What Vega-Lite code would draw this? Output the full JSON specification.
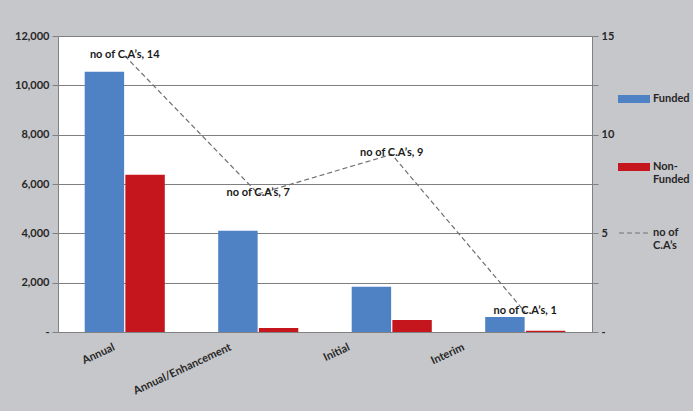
{
  "$schema": "https://vega.github.io/schema/vega-lite/v6.json",
  "autosize": {"type": "none"},
  "padding": {"left": 58, "top": 36, "right": 101, "bottom": 79},
  "width": 534,
  "height": 296,
  "background": "#c6c7ca",
  "config": {
    "view": {"fill": "white", "stroke": null},
    "font": "Lato",
    "axis": {"labelFont": "Lato", "labelFontWeight": "bold", "labelColor": "#262626", "labelFontSize": 11, "domainColor": "#808080", "tickColor": "#808080"},
    "legend": {"labelFont": "Lato", "labelFontWeight": "bold", "labelColor": "#262626", "labelFontSize": 11}
  },
  "datasets": {
    "bars": [
      {"type": "Annual", "series": "Funded", "value": 10550},
      {"type": "Annual", "series": "Non-Funded", "value": 6370},
      {"type": "Annual/Enhancement", "series": "Funded", "value": 4100},
      {"type": "Annual/Enhancement", "series": "Non-Funded", "value": 160},
      {"type": "Initial", "series": "Funded", "value": 1830},
      {"type": "Initial", "series": "Non-Funded", "value": 490},
      {"type": "Interim", "series": "Funded", "value": 610},
      {"type": "Interim", "series": "Non-Funded", "value": 50}
    ],
    "cas": [
      {"type": "Annual", "count": 14, "series": "no of C.A’s"},
      {"type": "Annual/Enhancement", "count": 7, "series": "no of C.A’s"},
      {"type": "Initial", "count": 9, "series": "no of C.A’s"},
      {"type": "Interim", "count": 1, "series": "no of C.A’s"}
    ]
  },
  "layer": [
    {
      "data": {"name": "bars"},
      "mark": {"type": "bar"},
      "encoding": {
        "x": {"field": "type", "type": "nominal", "sort": null,
              "scale": {"paddingInner": 0.4, "paddingOuter": 0.2},
              "axis": {"title": null, "labelAngle": -25, "ticks": false, "labelPadding": 9, "domainColor": "#808080",
                       "labelOffset": {"condition": [
                         {"test": "datum.value == 'Annual'", "value": -13},
                         {"test": "datum.value == 'Annual/Enhancement'", "value": -30},
                         {"test": "datum.value == 'Initial'", "value": -45}
                       ], "value": -64}}},
        "xOffset": {"field": "series", "type": "nominal", "scale": {"paddingInner": 0.03}},
        "y": {"field": "value", "type": "quantitative",
              "scale": {"domain": [0, 12000]},
              "axis": {"title": null, "values": [0, 2000, 4000, 6000, 8000, 10000, 12000],
                       "labelExpr": "datum.value == 0 ? '-' : format(datum.value, ',')",
                       "grid": true, "gridColor": "#7f7f7f", "gridWidth": 1, "tickSize": 6, "labelPadding": 3}},
        "color": {"field": "series", "type": "nominal",
                  "scale": {"domain": ["Funded", "Non-Funded"], "range": ["#4f81c5", "#c5161d"]},
                  "legend": {"title": null, "orient": "none", "legendX": 560, "legendY": 47,
                             "symbolType": "M-1,-0.25H1V0.25H-1Z", "symbolSize": 1024, "symbolStrokeWidth": 0,
                             "rowPadding": 47, "labelOffset": 3,
                             "labelExpr": "datum.label == 'Non-Funded' ? ['Non-', 'Funded'] : datum.label"}}
      }
    },
    {
      "data": {"name": "cas"},
      "layer": [
        {
          "mark": {"type": "line", "color": "#707070", "strokeWidth": 1.2},
          "encoding": {
            "x": {"field": "type", "type": "nominal", "sort": null},
            "y": {"field": "count", "type": "quantitative", "scale": {"domain": [0, 15]},
                  "axis": {"title": null, "orient": "right", "values": [0, 2.5, 5, 7.5, 10, 12.5, 15],
                           "labelExpr": "datum.value == 0 ? '-' : (datum.value % 5 == 0 ? format(datum.value, 'd') : '')",
                           "grid": false, "tickSize": 6, "labelPadding": 3}},
            "strokeDash": {"field": "series", "type": "nominal",
                           "scale": {"range": [[5, 3]]},
                           "legend": {"title": null, "orient": "none", "legendX": 560, "legendY": 180,
                                      "symbolType": "stroke", "symbolSize": 1024,
                                      "symbolStrokeColor": "#707070", "symbolStrokeWidth": 1.2, "labelOffset": 1,
                                      "labelExpr": "['no of', 'C.A’s']"}}
          }
        },
        {
          "mark": {"type": "text", "font": "Lato", "fontWeight": "bold", "fontSize": 11, "color": "#1a1a1a", "baseline": "middle", "dy": -1},
          "encoding": {
            "x": {"field": "type", "type": "nominal", "sort": null},
            "y": {"field": "count", "type": "quantitative", "scale": {"domain": [0, 15]}},
            "text": {"field": "label"}
          },
          "transform": [{"calculate": "'no of C.A’s, ' + datum.count", "as": "label"}]
        }
      ]
    }
  ],
  "resolve": {"scale": {"y": "independent"}}
}
